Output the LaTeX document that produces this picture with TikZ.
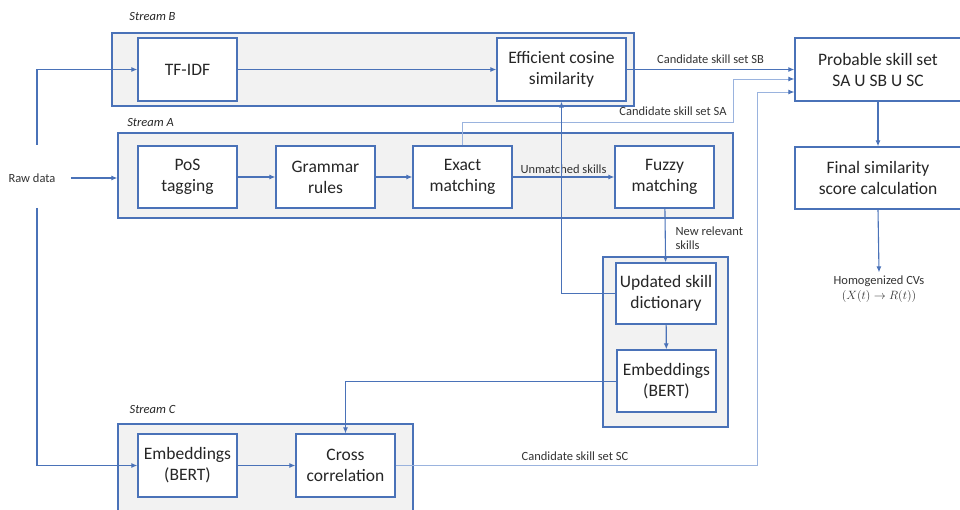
\documentclass[tikz,border=0pt]{standalone}
\usepackage{fontspec}
\setmainfont{Carlito}
\usetikzlibrary{positioning,arrows.meta}
\definecolor{boxblue}{HTML}{4A72B8}
\definecolor{lineblue}{HTML}{9AB3DE}
\definecolor{streamgray}{HTML}{F2F2F2}
\def\tsep{\fontsize{12.5}{14.5}\selectfont}

\begin{document}
\begin{tikzpicture}[>={Latex[width=5pt,length=6pt]},
	stream/.style={draw=boxblue, line width=1.3pt, fill=streamgray, inner sep=0pt},
	box/.style={draw=boxblue, line width=1.3pt, fill=white, inner sep=0pt, align=center, text=black!85, font=\fontsize{17.5}{21}\selectfont, minimum width=99pt, minimum height=62pt},
	lab/.style={text=black!80, font=\tsep},
	tag/.style={text=black!85, font=\itshape\tsep},
	flow/.style={->, draw=boxblue, line width=1.1pt},
	faint/.style={draw=lineblue, line width=0.9pt, -{Latex[width=5pt,length=6pt,color=boxblue]}}]
	\useasboundingbox (0pt, 0pt) rectangle (960pt, -510pt);
	% stream containers
	\draw (373.0pt, -69.5pt)node[stream, minimum width=522pt, minimum height=73pt](streamB){};
	\draw (425.5pt, -175.5pt)node[stream, minimum width=615pt, minimum height=85pt](streamA){};
	\draw (665.5pt, -342.0pt)node[stream, minimum width=125pt, minimum height=170pt](streamD){};
	\draw (265.5pt, -468.0pt)node[stream, minimum width=295pt, minimum height=88pt](streamC){};
	\draw (152.5pt, -17.0pt)node[tag](tagB){Stream B};
	\draw (150.5pt, -122.0pt)node[tag](tagA){Stream A};
	\draw (152.5pt, -409.0pt)node[tag](tagC){Stream C};
	% boxes
	\draw (187.5pt, -69.5pt)node[box, minimum height=63pt](tfidf){TF-IDF};
	\draw (561.5pt, -69.5pt)node[box, minimum width=129pt, minimum height=63pt](ecs){Efficient cosine\\similarity};
	\draw (187.5pt, -177.0pt)node[box](pos){PoS\\tagging};
	\draw (325.5pt, -177.0pt)node[box](grammar){Grammar\\rules};
	\draw (462.5pt, -177.0pt)node[box](exact){Exact\\matching};
	\draw (664.5pt, -177.0pt)node[box](fuzzy){Fuzzy\\matching};
	\draw (666.0pt, -293.5pt)node[box, minimum width=100pt, minimum height=61pt](upd){Updated skill\\dictionary};
	\draw (666.5pt, -381.0pt)node[box](embD){Embeddings\\(BERT)};
	\draw (187.5pt, -465.5pt)node[box, minimum height=63pt](embC){Embeddings\\(BERT)};
	\draw (345.5pt, -465.5pt)node[box, minimum height=63pt](cross){Cross\\correlation};
	\draw (878.0pt, -69.5pt)node[box, minimum width=166pt, minimum height=63pt](prob){Probable skill set\\SA U SB U SC};
	\draw (878.0pt, -178.0pt)node[box, minimum width=166pt](final){Final similarity\\score calculation};
	\draw (879.0pt, -289.0pt)node[lab, align=center](homog){Homogenized CVs\\$(X(t)\rightarrow R(t))$};
	\draw (32.0pt, -178.0pt)node[lab](raw){Raw data};
	\coordinate (rawB) at (37pt, -145pt);
	\coordinate (rawC) at (37pt, -208pt);
	\coordinate (saBend) at (733pt, -122pt);
	\coordinate (scBend) at (757pt, -465.5pt);
	% connectors
	\draw[flow] (rawB) |- (tfidf.west);
	\draw[flow] ([xshift=12pt]raw.east) -- (raw.east -| streamA.west);
	\draw[flow] (rawC) |- (embC.west);
	\draw[flow] (tfidf) -- (ecs);
	\draw[flow] (pos) -- (grammar);
	\draw[flow] (grammar) -- (exact);
	\draw[flow] (exact) -- node[lab, above]{Unmatched skills} (fuzzy);
	\draw[flow] (ecs.east) -- node[lab, above=2pt]{Candidate skill set SB} (prob.west);
	\draw[faint] (exact.north) |- (saBend) |- ([yshift=-9.5pt]prob.west);
	\draw (673.0pt, -111.0pt)node[lab](saLab){Candidate skill set SA};
	\draw[flow] (fuzzy) -- (upd);
	\draw (672.0pt, -238.0pt)node[lab, anchor=west, align=left](newLab){New relevant\\skills};
	\draw[flow] (upd.west) -| (ecs.south);
	\draw[flow] (upd) -- (embD);
	\draw[flow, line width=0.9pt] (embD.west) -| (cross.north);
	\draw[flow] (embC) -- (cross);
	\draw[faint] (cross.east) -- (scBend) |- ([yshift=-22.5pt]prob.west);
	\draw (575.0pt, -456.0pt)node[lab](scLab){Candidate skill set SC};
	\draw[flow] (prob) -- (final);
	\draw[flow] (final.south) -- (homog.north);
\end{tikzpicture}
\end{document}
